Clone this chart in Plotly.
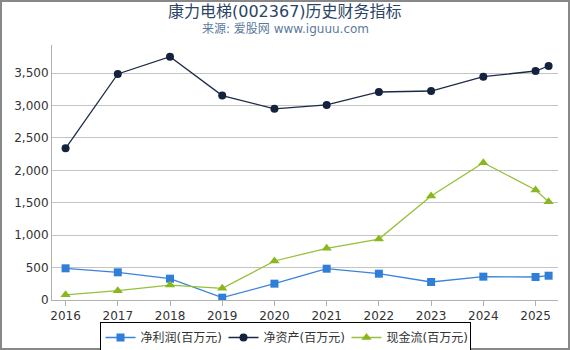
import plotly.graph_objects as go

years = [2016, 2017, 2018, 2019, 2020, 2021, 2022, 2023, 2024, 2025, 2025.25]
tick_years = [2016, 2017, 2018, 2019, 2020, 2021, 2022, 2023, 2024, 2025]
net_profit = [489, 427, 329, 36, 252, 483, 406, 278, 360, 355, 375]
net_assets = [2341, 3488, 3755, 3155, 2950, 3010, 3210, 3225, 3446, 3534, 3611]
cash_flow = [80, 144, 231, 180, 602, 798, 941, 1605, 2119, 1698, 1517]
y_ticks = [0, 500, 1000, 1500, 2000, 2500, 3000, 3500]
y_labels = ["0", "500", "1,000", "1,500", "2,000", "2,500", "3,000", "3,500"]

FONT = "DejaVu Sans, Noto Sans CJK SC, sans-serif"

fig = go.Figure()
fig.add_trace(go.Scatter(x=years, y=net_profit, name="净利润(百万元)", mode="lines+markers",
                         line=dict(color="#3a84d8", width=1.3),
                         marker=dict(symbol="square", size=8, color="#2f7fd8")))
fig.add_trace(go.Scatter(x=years, y=net_assets, name="净资产(百万元)", mode="lines+markers",
                         line=dict(color="#1c2b45", width=1.3),
                         marker=dict(symbol="circle", size=8, color="#13223d")))
fig.add_trace(go.Scatter(x=years, y=cash_flow, name="现金流(百万元)", mode="lines+markers",
                         line=dict(color="#96c03a", width=1.3),
                         marker=dict(symbol="triangle-up", size=9, color="#8ab61e")))

L, R, T, B = 52, 12, 45, 50
W, H = 570, 350
pw, ph = W - L - R, H - T - B
cx = (W / 2 - L) / pw

fig.update_layout(
    width=W, height=H,
    margin=dict(l=L, r=R, t=T, b=B, autoexpand=False),
    paper_bgcolor="white", plot_bgcolor="white",
    font=dict(family=FONT, size=12, color="#333333"),
    showlegend=True,
    legend=dict(orientation="h", x=(285 - L) / pw, xanchor="center",
                y=-(337.5 - (T + ph)) / ph, yanchor="middle",
                bordercolor="#000000", borderwidth=1, font=dict(size=12, color="#333333"),
                itemwidth=30, entrywidth=78, entrywidthmode="pixels", tracegroupgap=0),
    xaxis=dict(range=[2015.74, 2025.43], tickvals=tick_years, ticktext=[str(y) for y in tick_years],
               showgrid=False, showline=True, linecolor="#b0b0b0", linewidth=1,
               ticks="outside", ticklen=5, tickcolor="#b0b0b0", zeroline=False,
               tickfont=dict(size=12, color="#333333")),
    yaxis=dict(range=[0, 3935], tickvals=y_ticks, ticktext=y_labels,
               showgrid=True, gridcolor="#c4c4c4", gridwidth=1,
               showline=True, linecolor="#b0b0b0", linewidth=1, zeroline=False,
               ticks="", tickfont=dict(size=12, color="#333333")),
    annotations=[
        dict(text="康力电梯(002367)历史财务指标", xref="paper", yref="paper", x=cx,
             y=1 + (T - 11) / ph, xanchor="center", yanchor="middle", showarrow=False,
             font=dict(size=16, color="#2b4466")),
        dict(text="来源: 爱股网 www.iguuu.com", xref="paper", yref="paper", x=cx,
             y=1 + (T - 29) / ph, xanchor="center", yanchor="middle", showarrow=False,
             font=dict(size=12, color="#5b7a9c")),
    ],
    shapes=[
        dict(type="rect", xref="paper", yref="paper",
             x0=-L / pw + 1 / pw, x1=(W - L) / pw - 1 / pw,
             y0=-B / ph + 1 / ph, y1=1 + T / ph - 1 / ph,
             line=dict(color="#888888", width=2), layer="below"),
    ],
)

fig.write_html("out.html")
